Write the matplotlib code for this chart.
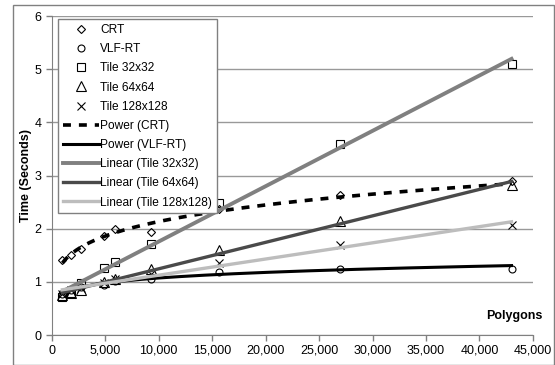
import numpy as np
import matplotlib
matplotlib.use("Agg")
import matplotlib.pyplot as plt
from matplotlib.patches import Rectangle

plt.rcParams['font.family'] = ['Liberation Sans', 'DejaVu Sans']

polygons = [1000, 1800, 2700, 4900, 5900, 9300, 15600, 27000, 43000]
crt = [1.41, 1.50, 1.61, 1.86, 1.99, 1.93, 2.37, 2.63, 2.90]
vlf_rt = [0.78, 0.85, 0.90, 0.95, 1.02, 1.06, 1.19, 1.25, 1.25]
tile32 = [0.72, 0.80, 0.98, 1.27, 1.38, 1.71, 2.48, 3.60, 5.09]
tile64 = [0.75, 0.80, 0.85, 1.00, 1.05, 1.25, 1.60, 2.15, 2.82]
tile128 = [0.77, 0.85, 0.88, 0.97, 1.05, 1.15, 1.35, 1.69, 2.07]

x = np.array(polygons, dtype=float)
xs = np.linspace(x.min(), x.max(), 200)


def power_fit(y):
    b, loga = np.polyfit(np.log(x), np.log(y), 1)
    return np.exp(loga) * xs ** b


def linear_fit(y):
    m, c = np.polyfit(x, y, 1)
    return m * xs + c


fig = plt.figure(figsize=(5.55, 3.65), dpi=100)
ax = fig.add_axes([0.0932, 0.082, 0.867, 0.874])
fig.patches.append(Rectangle((13 / 555, 0.0), 541 / 555, 1 - 5 / 365, transform=fig.transFigure,
                             fill=False, edgecolor='#808080', linewidth=1))

mk = dict(linestyle='none', markerfacecolor='none', markeredgecolor='black', markeredgewidth=0.8)
ax.plot(x, crt, marker='D', markersize=4.5, label='CRT', **mk)
ax.plot(x, vlf_rt, marker='o', markersize=5, label='VLF-RT', **mk)
ax.plot(x, tile32, marker='s', markersize=6, label='Tile 32x32', **mk)
ax.plot(x, tile64, marker='^', markersize=6.5, label='Tile 64x64', **mk)
ax.plot(x, tile128, marker='x', markersize=5.5, label='Tile 128x128', **mk)

ax.plot(xs, power_fit(crt), color='black', lw=2.6, linestyle=(0, (2.2, 2.2)), label='Power (CRT)')
ax.plot(xs, power_fit(vlf_rt), color='black', lw=2.2, label='Power (VLF-RT)')
ax.plot(xs, linear_fit(tile32), color='#808080', lw=2.8, label='Linear (Tile 32x32)')
ax.plot(xs, linear_fit(tile64), color='#4a4a4a', lw=2.4, label='Linear (Tile 64x64)')
ax.plot(xs, linear_fit(tile128), color='#bdbdbd', lw=2.4, label='Linear (Tile 128x128)')

ax.set_xlim(0, 45000)
ax.set_ylim(0, 6)
ax.set_xticks(np.arange(0, 45001, 5000))
ax.set_yticks(range(7))
ax.xaxis.set_major_formatter(matplotlib.ticker.FuncFormatter(lambda v, p: f'{int(v):,}'))
ax.tick_params(axis='both', labelsize=9, color='#808080', length=4, width=1, direction='out')
ax.tick_params(axis='x', pad=3)
ax.grid(axis='y', color='#999999', linewidth=1)
ax.set_axisbelow(True)
for s in ['top', 'right']:
    ax.spines[s].set_visible(False)
for s in ['left', 'bottom']:
    ax.spines[s].set_color('#808080')

ax.set_ylabel('Time (Seconds)', fontsize=9, fontweight='bold', labelpad=2)
ax.text(1.02, 0.06, 'Polygons', transform=ax.transAxes, ha='right', va='center',
        fontsize=9, fontweight='bold')

leg = ax.legend(loc='upper left', bbox_to_anchor=(0.013, 0.99), fontsize=8.6, frameon=True,
                fancybox=False, edgecolor='#808080', framealpha=1, handlelength=3.0,
                handletextpad=0.15, labelspacing=0.6, borderpad=0.4, borderaxespad=0)
leg.get_frame().set_linewidth(1)

fig.savefig('out.png', dpi=100)
